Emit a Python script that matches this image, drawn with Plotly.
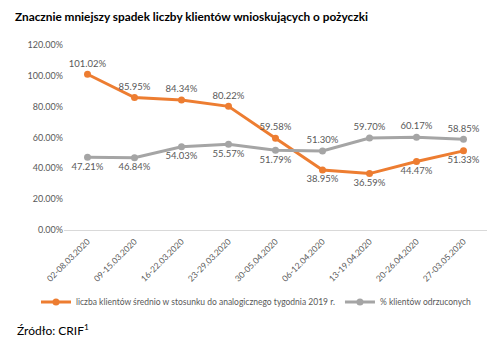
import plotly.graph_objects as go

categories = ["02-08.03.2020", "09-15.03.2020", "16-22.03.2020", "23-29.03.2020",
              "30-05.04.2020", "06-12.04.2020", "13-19.04.2020", "20-26.04.2020",
              "27-03.05.2020"]
klienci = [1.0102, 0.8595, 0.8434, 0.8022, 0.5958, 0.3895, 0.3659, 0.4447, 0.5133]
odrzuceni = [0.4721, 0.4684, 0.5403, 0.5557, 0.5179, 0.5130, 0.5970, 0.6017, 0.5885]
klienci_pos = ["top center"] * 5 + ["bottom center"] * 4
odrzuceni_pos = ["bottom center"] * 5 + ["top center"] * 4

name1 = "liczba klientów średnio w stosunku do analogicznego tygodnia 2019 r."
name2 = "% klientów odrzuconych"

font = "Lato, Open Sans, sans-serif"
fig = go.Figure()
fig.add_trace(go.Scatter(
    x=categories, y=klienci, name=name1, mode="lines+markers+text",
    line=dict(color="#ED7D31", width=3), marker=dict(size=7, color="#ED7D31"),
    texttemplate="%{y:.2%}", textposition=klienci_pos,
    textfont=dict(size=9.5, color="#595959", family=font)))
fig.add_trace(go.Scatter(
    x=categories, y=odrzuceni, name=name2, mode="lines+markers+text",
    line=dict(color="#A5A5A5", width=3), marker=dict(size=7, color="#A5A5A5"),
    texttemplate="%{y:.2%}", textposition=odrzuceni_pos,
    textfont=dict(size=9.5, color="#595959", family=font)))

fig.update_layout(
    width=500, height=347, paper_bgcolor="white", plot_bgcolor="white",
    margin=dict(l=64, r=13, t=45, b=117),
    font=dict(family=font, color="#595959", size=9),
    title=dict(text="<b>Znacznie mniejszy spadek liczby klientów wnioskujących o pożyczki</b>",
               x=0.03, xanchor="left", y=1 - 17 / 347, yanchor="middle",
               font=dict(size=11.8, color="black", family=font)),
    legend=dict(orientation="h", x=(36 - 64) / 423, xanchor="left",
                y=(230 - 302) / 185, yanchor="middle",
                font=dict(size=8.5, color="#595959"), itemwidth=30,
                bgcolor="rgba(0,0,0,0)", traceorder="normal"),
    xaxis=dict(type="category", range=[-0.5, 8.5], tickangle=-45,
               tickfont=dict(size=8.5, color="#595959"), showgrid=False,
               showline=False, ticks="", ticklabelstandoff=4),
    yaxis=dict(range=[0, 1.2], tickformat=".2%", dtick=0.2, showgrid=False,
               zeroline=True, zerolinecolor="#D9D9D9", zerolinewidth=1,
               tickfont=dict(size=9, color="#595959"), ticks="", showline=False),
    annotations=[dict(text="Źródło: CRIF<sup>1</sup>", xref="paper", yref="paper",
                      x=(15 - 64) / 423, y=(230 - 330) / 185, xanchor="left",
                      yanchor="middle", showarrow=False,
                      font=dict(size=12, color="black", family=font))],
)
fig.write_html("out.html")
